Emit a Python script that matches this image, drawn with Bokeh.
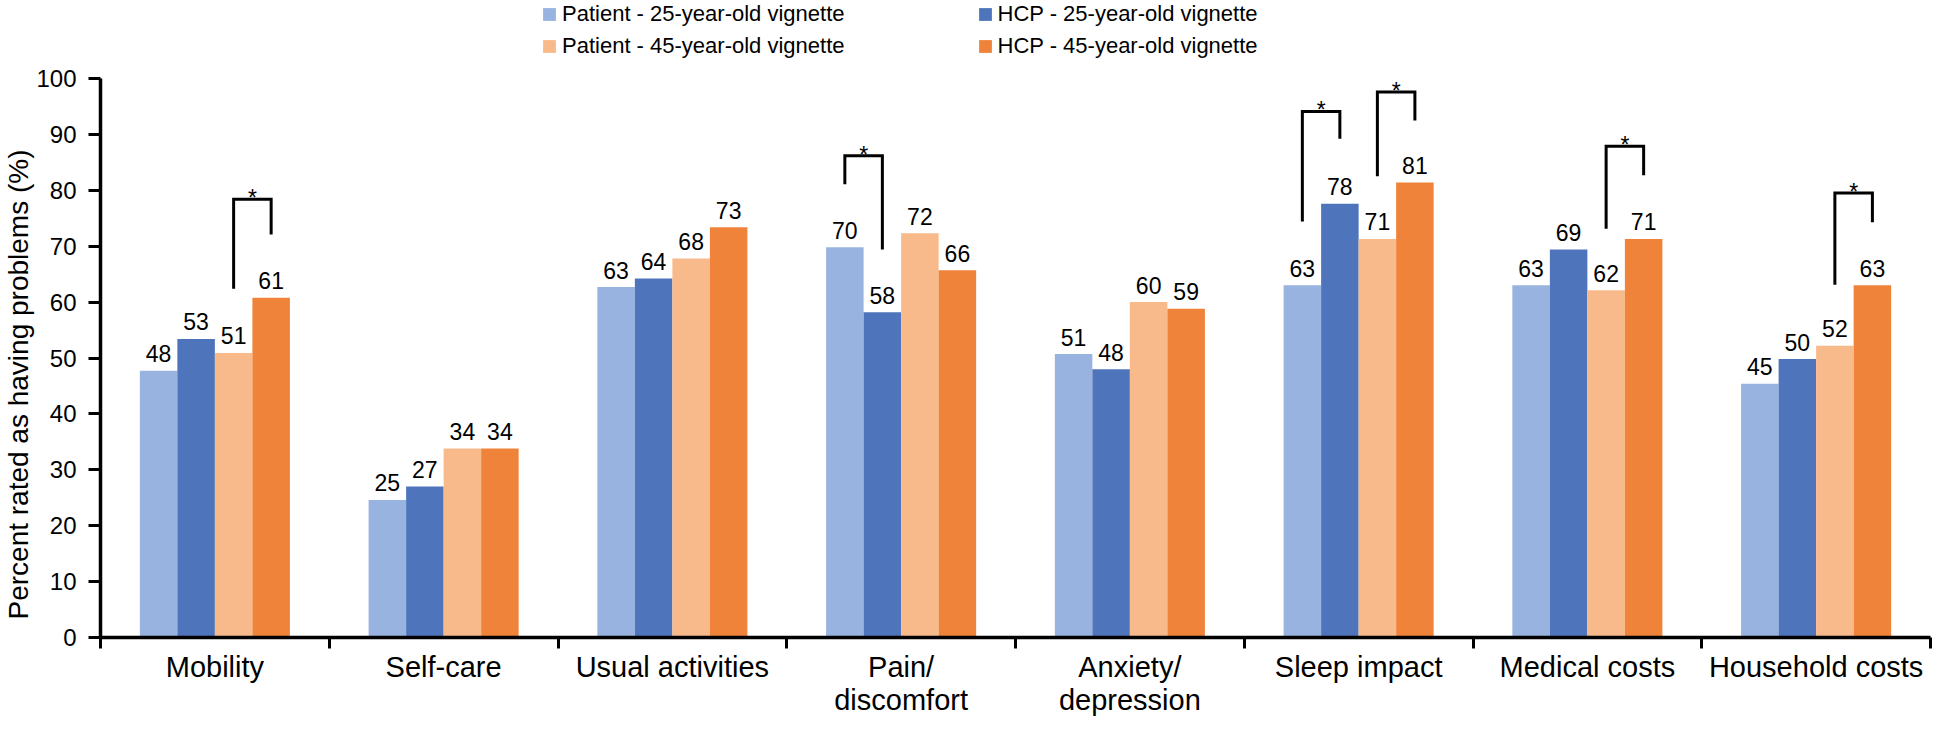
from bokeh.plotting import figure
from bokeh.models import FixedTicker, Legend, LegendItem, Range1d, Title
from bokeh.embed import file_html
from bokeh.resources import INLINE
from bokeh.core.properties import value

# ---------------- data ----------------
categories = ["Mobility", "Self-care", "Usual activities", "Pain/\ndiscomfort",
              "Anxiety/\ndepression", "Sleep impact", "Medical costs", "Household costs"]
series_names = ["Patient - 25-year-old vignette", "HCP - 25-year-old vignette",
                "Patient - 45-year-old vignette", "HCP - 45-year-old vignette"]
patient_25 = [47.7, 24.6, 62.7, 69.8, 50.7, 63.0, 63.0, 45.4]
hcp_25 = [53.4, 27.0, 64.2, 58.2, 48.0, 77.6, 69.4, 49.8]
patient_45 = [50.9, 33.8, 67.8, 72.3, 60.0, 71.3, 62.1, 52.2]
hcp_45 = [60.8, 33.8, 73.4, 65.7, 58.8, 81.4, 71.3, 63.0]
y_ticks = [0, 10, 20, 30, 40, 50, 60, 70, 80, 90, 100]
y_title = "Percent rated as having problems (%)"
# significance brackets: (category, left series, right series, left foot, top, right foot)
brackets = [
    (0, 2, 3, 62.4, 78.4, 72.1),
    (3, 0, 1, 81.1, 86.2, 69.4),
    (5, 0, 1, 74.4, 94.1, 89.2),
    (5, 2, 3, 82.5, 97.6, 92.5),
    (6, 2, 3, 73.1, 87.9, 82.7),
    (7, 2, 3, 63.1, 79.5, 74.3),
]

# ---------------- style ----------------
colors = ["#98B3DF", "#4E75BB", "#F9BA8B", "#F0833A"]
FONT = "Liberation Sans"
bar_w = 0.164
offsets = [-1.5, -0.5, 0.5, 1.5]
FIG_H = 733
BOTTOM = 96                        # bottom panel (axis + two-line labels)
FRAME_H = FIG_H - BOTTOM           # frame spans legend area + plot area
TOP_GAP = 78                       # px between frame top and the 100 % line
Y_TOP = 100 * FRAME_H / (FRAME_H - TOP_GAP)

p = figure(width=1932, height=FIG_H, output_backend="svg", toolbar_location=None,
           x_range=Range1d(0, len(categories)), y_range=Range1d(0, Y_TOP),
           min_border_left=99, min_border_right=2, min_border_top=0,
           min_border_bottom=BOTTOM)
p.outline_line_color = None
p.xgrid.visible = False
p.ygrid.visible = False
p.background_fill_color = "white"
p.border_fill_color = "white"

all_series = [patient_25, hcp_25, patient_45, hcp_45]
renderers = []
for k, vals in enumerate(all_series):
    xs = [i + 0.5 + offsets[k] * bar_w for i in range(len(categories))]
    r = p.vbar(x=xs, top=vals, bottom=0, width=bar_w, fill_color=colors[k], line_color=None)
    renderers.append(r)
    labels = [str(int(v + 0.5)) for v in vals]
    p.text(x=xs, y=vals, text=labels, text_align="center", text_baseline="alphabetic",
           y_offset=-17, text_font=value(FONT), text_font_size="23px", text_color="black")

for (ci, a, b, fl, top, fr) in brackets:
    xl = ci + 0.5 + offsets[a] * bar_w
    xr = ci + 0.5 + offsets[b] * bar_w
    p.line(x=[xl, xl, xr, xr], y=[fl, top, top, fr], line_color="black", line_width=3,
           line_join="miter")
    p.text(x=[(xl + xr) / 2], y=[top], text=["*"], text_align="center",
           text_baseline="alphabetic", y_offset=-1, text_font=value(FONT),
           text_font_size="23px", text_color="black")

# y axis
yax = p.yaxis[0]
yax.ticker = FixedTicker(ticks=y_ticks)
yax.bounds = (0, 100)
yax.major_label_text_font = FONT
yax.major_label_text_font_size = "24px"
yax.major_label_text_color = "black"
yax.major_label_standoff = 12
yax.axis_line_width = 3.5
yax.axis_line_color = "black"
yax.major_tick_line_width = 3
yax.major_tick_line_color = "black"
yax.major_tick_out = 12
yax.major_tick_in = 0
yax.minor_tick_line_color = None

# y axis title: starts near the bottom of the frame and runs upward
ttl = Title(text=y_title, align="left", offset=FRAME_H - 619, standoff=0,
            text_font=FONT, text_font_size="28px", text_font_style="normal",
            text_color="black")
p.add_layout(ttl, "left")

# x axis: category names centred, tick marks at category boundaries
xax = p.xaxis[0]
centers = [i + 0.5 for i in range(len(categories))]
xax.ticker = FixedTicker(ticks=centers, minor_ticks=list(range(len(categories) + 1)))
xax.major_label_overrides = {c: lab for c, lab in zip(centers, categories)}
xax.major_label_text_font = FONT
xax.major_label_text_font_size = "29px"
xax.major_label_text_line_height = 1.05
xax.major_label_text_color = "black"
xax.major_label_standoff = 2
xax.axis_line_width = 3.5
xax.axis_line_color = "black"
xax.major_tick_line_color = None
xax.major_tick_out = 0
xax.major_tick_in = 0
xax.minor_tick_line_color = "black"
xax.minor_tick_line_width = 3
xax.minor_tick_out = 11
xax.minor_tick_in = 0

# legend (two rows, two columns), drawn above the 100 % line
def make_legend(idx, loc):
    leg = Legend(items=[LegendItem(label=series_names[j], renderers=[renderers[j]]) for j in idx],
                 orientation="horizontal", location=loc, spacing=132,
                 label_text_font=FONT, label_text_font_size="22px", label_text_color="black",
                 glyph_width=16, glyph_height=16, label_standoff=5, padding=0, margin=0,
                 label_height=26, border_line_color=None, background_fill_alpha=0)
    return leg

p.add_layout(make_legend([0, 1], (441, FRAME_H - 27)))
p.add_layout(make_legend([2, 3], (441, FRAME_H - 59)))

open("out.html", "w").write(file_html(p, INLINE))
